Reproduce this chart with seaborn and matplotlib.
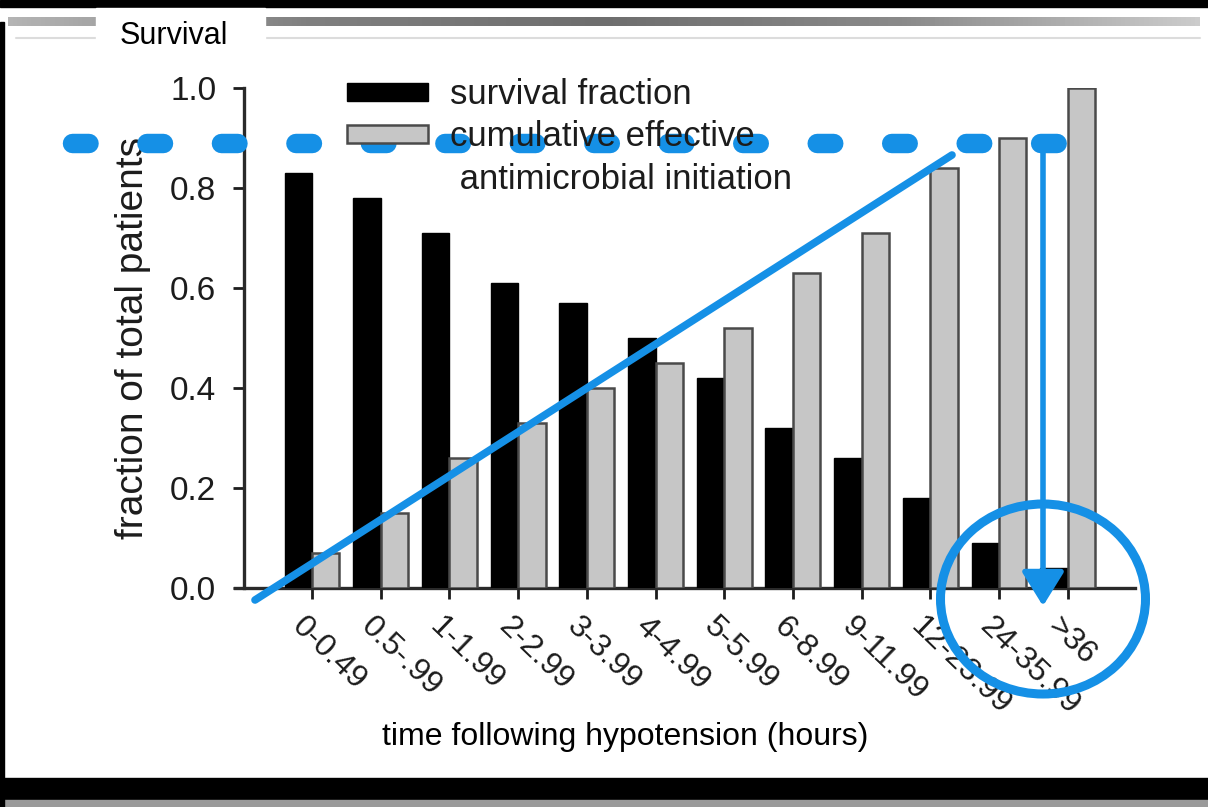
import numpy as np
import pandas as pd
import matplotlib
matplotlib.use("Agg")
import matplotlib.pyplot as plt
import matplotlib.patches as mpatches
from matplotlib.lines import Line2D
from matplotlib.transforms import ScaledTranslation
import seaborn as sns

# ---------------- data ----------------
categories = ["0-0.49", "0.5-.99", "1-1.99", "2-2.99", "3-3.99", "4-4.99",
              "5-5.99", "6-8.99", "9-11.99", "12-23.99", "24-35.99", ">36"]
survival_fraction = [0.83, 0.78, 0.71, 0.61, 0.57, 0.50, 0.42, 0.32, 0.26, 0.18, 0.09, 0.04]
cumulative_initiation = [0.07, 0.15, 0.26, 0.33, 0.40, 0.45, 0.52, 0.63, 0.71, 0.84, 0.90, 1.00]
series_names = ["survival fraction", "cumulative effective antimicrobial initiation"]
yticks = [0.0, 0.2, 0.4, 0.6, 0.8, 1.0]
ytick_labels = ["0.0", "0.2", "0.4", "0.6", "0.8", "1.0"]

df = pd.DataFrame({
    "time": categories * 2,
    "value": survival_fraction + cumulative_initiation,
    "series": [series_names[0]] * len(categories) + [series_names[1]] * len(categories),
})

# ---------------- style ----------------
sns.set_style("ticks")
plt.rcParams["font.family"] = ["Liberation Sans", "DejaVu Sans"]
INK = "#1c1c1c"
BLUE = "#1590e6"
GRAY = "#c6c6c6"

W, H = 1208, 807
fig = plt.figure(figsize=(W / 100, H / 100), dpi=100)
fig.patch.set_facecolor("white")

def fx(px):
    return px / W

def fy(py):
    return 1 - py / H

# ---------------- frame decorations (slide border) ----------------
fig.patches.append(mpatches.Rectangle((0, fy(7)), 1, 7 / H, transform=fig.transFigure,
                                      color="black", zorder=0))
fig.patches.append(mpatches.Rectangle((0, fy(800)), 1, 22 / H, transform=fig.transFigure,
                                      color="black", zorder=0))
fig.patches.append(mpatches.Rectangle((0, 0), 1, 7 / H, transform=fig.transFigure,
                                      color="#9a9a9a", zorder=0))
fig.patches.append(mpatches.Rectangle((0, fy(807)), 4 / W, (807 - 22) / H, transform=fig.transFigure,
                                      color="black", zorder=0))
grad = np.linspace(0, 1, 256).reshape(1, -1)
gax = fig.add_axes([fx(8), fy(26), fx(1200) - fx(8), 9 / H], zorder=0)
gax.imshow(np.vstack([grad, grad]), aspect="auto", cmap=matplotlib.colors.LinearSegmentedColormap.from_list(
    "g", ["#b4b4b4", "#808080", "#6e6e6e", "#8a8a8a", "#cccccc"]))
gax.set_axis_off()
fig.add_artist(Line2D([fx(16), fx(1200)], [fy(38), fy(38)], transform=fig.transFigure,
                      color="#dcdcdc", lw=1.5, zorder=1))
fig.patches.append(mpatches.Rectangle((fx(96), fy(62)), fx(265) - fx(96), 54 / H,
                                      transform=fig.transFigure, color="white", zorder=2))
fig.text(fx(174), fy(36), "Survival", ha="center", va="center", fontsize=22,
         color="black", zorder=3)

# ---------------- chart ----------------
x0_px, x1_px, y0_px, y1_px = 244, 1135, 588, 88
ax = fig.add_axes([fx(x0_px), fy(y0_px), fx(x1_px) - fx(x0_px), (y0_px - y1_px) / H], zorder=4)
ax.patch.set_alpha(0)

sns.barplot(data=df, x="time", y="value", hue="series", palette=["black", GRAY],
            saturation=1, width=0.8, ax=ax, legend=False, errorbar=None, zorder=3)

for bar in ax.containers[0]:
    bar.set_edgecolor("black")
    bar.set_linewidth(1.0)
for bar in ax.containers[1]:
    bar.set_edgecolor("#4a4a4a")
    bar.set_linewidth(1.8)

tick_px = 68.7
ax.set_xlim((x0_px - 312) / tick_px, (x1_px - 312) / tick_px)
ax.set_ylim(0, 1.0)
ax.set_yticks(yticks)
ax.set_yticklabels(ytick_labels)
ax.set_xlabel("")
ax.set_ylabel("fraction of total patients", fontsize=28, color=INK, labelpad=14)
sns.despine(ax=ax)
for s in ["left", "bottom"]:
    ax.spines[s].set_linewidth(2.4)
    ax.spines[s].set_color("#2a2a2a")
ax.spines["bottom"].set_bounds((235 - 312) / tick_px, (x1_px - 312) / tick_px)
ax.tick_params(axis="y", labelsize=24, colors=INK, length=8, width=2, pad=12)
ax.tick_params(axis="x", labelsize=23, colors=INK, length=8, width=2, pad=9)

offset = ScaledTranslation(-5 / 100, 0, fig.dpi_scale_trans)
for lab in ax.get_xticklabels():
    lab.set_rotation(-44)
    lab.set_ha("left")
    lab.set_va("top")
    lab.set_rotation_mode("anchor")
    lab.set_transform(lab.get_transform() + offset)

fig.text(fx(625), fy(737), "time following hypotension (hours)", ha="center", va="center",
         fontsize=23, color="black")

# legend (third row continues the second label)
handles = [mpatches.Patch(facecolor="black", edgecolor="black"),
           mpatches.Patch(facecolor=GRAY, edgecolor="#4a4a4a", linewidth=1.8),
           mpatches.Patch(facecolor="none", edgecolor="none")]
labels = ["survival fraction", "cumulative effective", " antimicrobial initiation"]
fig.legend(handles, labels, loc="upper left", bbox_to_anchor=(fx(347), fy(78)),
           bbox_transform=fig.transFigure, frameon=False, fontsize=25, borderpad=0,
           borderaxespad=0, handlelength=2.33, handleheight=0.43, handletextpad=0.63,
           labelspacing=0.27, labelcolor=INK)

# ---------------- blue hand-drawn annotations ----------------
def dx(px):
    return (px - 312) / tick_px

def dy(py):
    return (y0_px - py) / (y0_px - y1_px)

ax.plot([dx(72), dx(1058)], [dy(143), dy(143)], color=BLUE, lw=14,
        ls=(0, (0.85, 2.98)), dash_capstyle="round", clip_on=False, zorder=10)
ax.plot([dx(255), dx(952)], [dy(600), dy(155)], color=BLUE, lw=5.5,
        solid_capstyle="round", clip_on=False, zorder=10)
ax.annotate("", xy=(dx(1043), dy(606)), xytext=(dx(1043), dy(152)),
            arrowprops=dict(arrowstyle="-|>,head_length=2.1,head_width=1.3", color=BLUE,
                            lw=4, shrinkA=0, shrinkB=0),
            annotation_clip=False, zorder=10)
ax.add_patch(mpatches.Ellipse((dx(1043), dy(599)), 205 / tick_px, 190 / (y0_px - y1_px),
                              fill=False, edgecolor=BLUE, lw=6.5, clip_on=False, zorder=10))

fig.savefig("out.png", dpi=100)
